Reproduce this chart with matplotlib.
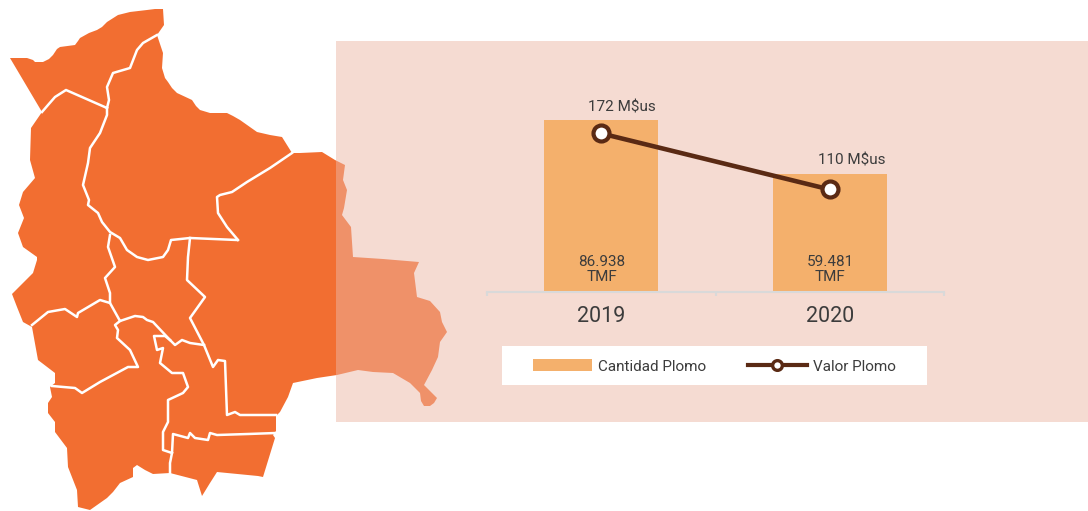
import matplotlib
matplotlib.use("Agg")
import matplotlib.pyplot as plt
from matplotlib.lines import Line2D
from matplotlib.patches import Polygon, Rectangle

plt.rcParams["font.family"] = ["Roboto", "DejaVu Sans"]

# datos del grafico
years = ["2019", "2020"]
cantidad = [86938, 59481]
valor = [172, 110]
cantidad_labels = ["86.938\nTMF", "59.481\nTMF"]
valor_labels = ["172 M$us", "110 M$us"]

# contorno del mapa de Bolivia (pixeles de la imagen)
map_outline = [
    (10, 58), (27, 58), (33, 60), (35, 62), (43, 62), (49, 59), (53, 55), (57, 49), (60, 47), (75, 45),
    (78, 41), (80, 38), (89, 33), (97, 30), (102, 27), (107, 22), (118, 15), (130, 12), (147, 10),
    (155, 9), (163, 9), (164, 25), (157, 35), (160, 44), (163, 53), (162, 68), (165, 78), (168, 82),
    (172, 88), (177, 93), (192, 100), (196, 106), (200, 110), (210, 113), (227, 113), (233, 116),
    (240, 120), (257, 132), (270, 135), (282, 137), (287, 145), (292, 153), (300, 153), (322, 152),
    (335, 160), (345, 165), (343, 180), (347, 190), (344, 208), (342, 215), (351, 227),
    (353, 257), (383, 259), (419, 262), (414, 273), (417, 297), (430, 301), (440, 312),
    (442, 322), (447, 332), (440, 342), (438, 357), (432, 370), (424, 385), (437, 398), (434, 403),
    (430, 406), (424, 406), (421, 401), (420, 393), (410, 383), (393, 373), (373, 372), (358, 370),
    (337, 375), (317, 378), (293, 383), (288, 397), (280, 412), (276, 416), (276, 431), (273, 435),
    (275, 438), (263, 477), (258, 476), (217, 472), (210, 483), (202, 496), (197, 480), (170, 473),
    (153, 474), (145, 470), (137, 465), (133, 468), (133, 477), (120, 483), (113, 492), (107, 498),
    (90, 510), (78, 507), (77, 490), (68, 467), (67, 448), (55, 432), (55, 422), (48, 413), (48, 403),
    (52, 397), (50, 387), (55, 383), (55, 373), (38, 360), (32, 327), (23, 322), (17, 307), (12, 294),
    (23, 283), (33, 273), (37, 260), (37, 257), (23, 247), (18, 233), (24, 218), (19, 205), (23, 192),
    (35, 178), (30, 160), (31, 128), (42, 112),
]

# limites departamentales
map_borders = [
    [(42, 112), (48, 105), (55, 97), (66, 90), (107, 108)],
    [(157, 35), (143, 43), (137, 50), (130, 68), (113, 73), (107, 87), (109, 100), (107, 108)],
    [(107, 108), (107, 115), (100, 133), (90, 148), (88, 163), (83, 185), (89, 200), (88, 205),
     (98, 213), (102, 222), (110, 232), (120, 238), (127, 250), (137, 257), (148, 260),
     (163, 257), (168, 250), (171, 240), (190, 238), (237, 240)],
    [(292, 153), (270, 168), (247, 182), (232, 192), (220, 195), (217, 197), (218, 213),
     (227, 227), (238, 240)],
    [(190, 238), (188, 257), (187, 280), (205, 297), (190, 318), (204, 345), (213, 367),
     (218, 360), (225, 361), (227, 415), (235, 412), (240, 415), (276, 415)],
    [(276, 433), (248, 434), (217, 435), (210, 433), (208, 440), (195, 438), (190, 433),
     (188, 438), (173, 434), (172, 453), (170, 463), (170, 473)],
    [(110, 235), (108, 247), (115, 267), (105, 278), (110, 293), (110, 303), (100, 300),
     (78, 313), (77, 317), (65, 309), (48, 312), (32, 325)],
    [(110, 303), (120, 321), (135, 316), (143, 317), (147, 320), (153, 322), (170, 340),
     (175, 345), (182, 340), (190, 343), (204, 345)],
    [(120, 321), (115, 325), (118, 330), (117, 338), (130, 350), (138, 367), (128, 367),
     (100, 382), (82, 393), (75, 388), (52, 386)],
    [(170, 340), (165, 336), (154, 336), (157, 350), (163, 348), (160, 363), (172, 373), (183, 373),
     (188, 387), (183, 393), (168, 400), (168, 422), (163, 432), (163, 450), (172, 453)],
]

W, H = 1088, 511
ORANGE = "#F26E31"
BAR = "#F4B06C"
LINE = "#5A2A14"
TEXT = "#3C3C3C"

fig = plt.figure(figsize=(W / 100, H / 100), dpi=100, facecolor="white")

# fondo: mapa, panel translucido y caja de leyenda
bg = fig.add_axes([0, 0, 1, 1])
bg.set_xlim(0, W)
bg.set_ylim(H, 0)
bg.axis("off")
bg.add_patch(Polygon(map_outline, closed=True, facecolor=ORANGE, edgecolor="none", zorder=1))
for b in map_borders:
    bg.plot([p[0] for p in b], [p[1] for p in b], color="white", lw=1.8, zorder=2)
bg.add_patch(Rectangle((336, 41), 752, 381, facecolor="#ECB6A5", alpha=0.49, edgecolor="none", zorder=3))
bg.add_patch(Rectangle((502, 346), 425, 39, facecolor="white", edgecolor="none", zorder=4))

# grafico
ax_left, ax_right, ax_top, ax_bottom = 487, 944, 100, 292
ax = fig.add_axes([ax_left / W, 1 - ax_bottom / H, (ax_right - ax_left) / W, (ax_bottom - ax_top) / H])
ax.patch.set_alpha(0)
x = range(len(years))
bars = ax.bar(x, cantidad, width=0.5, color=BAR, label="Cantidad Plomo", zorder=2)
ax.set_xlim(-0.5, 1.5)
ax.set_ylim(0, 97000)
ax.set_yticks([])
for s in ["top", "left", "right"]:
    ax.spines[s].set_visible(False)
ax.spines["bottom"].set_color("#D9D9D9")
ax.spines["bottom"].set_linewidth(1.5)
ax.set_xticks(list(x), years)
ax.tick_params(axis="x", which="major", length=0, pad=10, labelsize=15.5, labelcolor=TEXT)
ax.set_xticks([-0.5, 0.5, 1.5], minor=True)
ax.tick_params(axis="x", which="minor", length=3, width=1.5, color="#D9D9D9")

ax2 = ax.twinx()
ax2.patch.set_alpha(0)
ax2.set_ylim(-3.4, 209)
ax2.axis("off")
ax2.plot(x, valor, color=LINE, lw=3.3, marker="o", ms=11.5, mfc="white", mec=LINE, mew=3, zorder=3)

for i, lab in enumerate(cantidad_labels):
    ax.annotate(lab, (i, 0), xytext=(0.5, 5.5), textcoords="offset points", ha="center", va="bottom",
                fontsize=11, color=TEXT, linespacing=1.15, zorder=4)
ax2.annotate(valor_labels[0], (0, valor[0]), xytext=(15, 13.5), textcoords="offset points", ha="center",
             va="bottom", fontsize=11, color=TEXT)
ax2.annotate(valor_labels[1], (1, valor[1]), xytext=(15.5, 15.5), textcoords="offset points", ha="center",
             va="bottom", fontsize=11, color=TEXT)

line_handle = Line2D([], [], color=LINE, lw=3, marker="o", ms=7, mfc="white", mec=LINE, mew=2.4)
leg = fig.legend([bars, line_handle], ["Cantidad Plomo", "Valor Plomo"], ncol=2, frameon=False,
                 loc="center", bbox_to_anchor=(714.5 / W, 1 - 366.5 / H), fontsize=11,
                 labelcolor=TEXT, handlelength=3.85, handletextpad=0.4, columnspacing=2.7,
                 handleheight=0.8)

fig.savefig("out.png", dpi=100)
